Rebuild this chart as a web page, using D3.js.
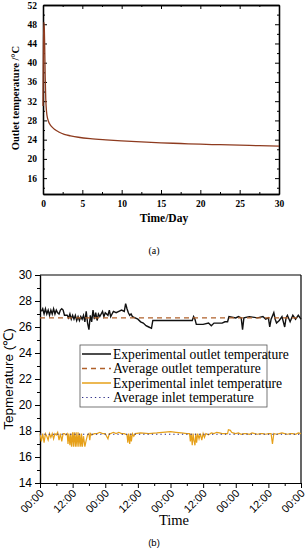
<!DOCTYPE html>
<html><head><meta charset="utf-8">
<script src="https://cdn.jsdelivr.net/npm/d3@7"></script>
<style>body{margin:0;background:#fff}svg{display:block}</style>
</head><body><svg id="c" width="308" height="550"></svg>
<script>
// ---- Chart (a) data ----
const daysA = [0, 0.06, 0.12, 0.17, 0.22, 0.28, 0.35, 0.45, 0.6, 0.8, 1.1, 1.5, 2, 2.7, 3.5, 4.5, 6, 8, 10, 12.5, 15, 17.5, 20, 22.5, 25, 27.5, 30];
const tempA = [31, 44, 48.4, 47, 43, 37, 32.5, 29.8, 28.3, 27.4, 26.7, 26.1, 25.6, 25.1, 24.8, 24.5, 24.2, 23.95, 23.75, 23.55, 23.35, 23.2, 23.05, 22.95, 22.85, 22.75, 22.65];
const xTicksA = [0, 5, 10, 15, 20, 25, 30];
const yTicksA = [16, 20, 24, 28, 32, 36, 40, 44, 48, 52];

// ---- Chart (b) data ----
const outletHours = [0.5,1,1.5,2,2.5,3,3.5,4,4.5,5,5.5,6,6.5,7,7.5,8,8.5,9,10,10.5,11,11.5,12,12.5,13,13.5,14,14.5,15,15.5,16,16.5,17,17.5,18,18.5,19,19.5,20,20.5,21,21.5,22,23,23.5,24,25,25.5,26,26.5,27,28,29,30,31,31.5,32,32.5,33,33.5,34,35,36,37,38,39,40,41,41.5,42,56,56.5,57,57.5,60,62,63,64,67,68,69,69.5,72,73,74,74.5,75,77,80,82,83,84,84.5,85,86,86.5,87,88,89,90,90.5,91,92,93,94,95,96];
const outletTemp = [27.2,27.4,27.0,27.4,27.0,27.3,26.9,27.3,27.0,27.4,27.0,27.3,27.1,27.0,27.3,27.4,27.3,26.9,26.9,26.7,27.0,26.6,26.9,26.6,26.9,26.5,26.8,26.5,26.8,26.6,26.9,26.4,27.2,26.3,25.8,26.9,26.4,27.3,26.6,27.1,26.5,27.0,26.8,27.2,26.8,27.1,26.9,27.3,26.8,27.0,27.2,27.1,27.2,27.3,27.2,27.8,27.4,27.1,26.9,27.0,26.8,26.7,26.6,26.4,26.3,26.1,26.0,25.9,26.5,26.5,26.5,26.8,26.6,26.2,26.2,26.3,26.1,26.3,26.3,26.4,26.4,26.8,26.7,26.8,26.7,25.8,26.7,26.8,26.7,26.8,26.6,26.7,26.0,26.6,27.1,26.6,26.3,26.5,26.8,26.0,26.7,26.9,26.4,26.9,26.6,26.9,26.6];
const inletHours = [0,0.5,1,1.5,2,2.5,3,3.5,4,4.5,5,5.5,6,6.5,7,7.5,8,8.5,9,9.5,10,10.3,10.6,11,11.3,11.6,12,12.3,12.6,13,13.3,13.6,14,14.3,14.6,15,15.3,15.6,16,16.5,17,17.5,18,18.3,18.6,19,20,21,22,23,24,24.5,25,25.5,26,27,28,29,30,31,32,32.3,32.6,33,33.3,33.6,34,34.5,35,37,40,43,45,48,50,52,54,55,55.3,55.6,56,56.3,56.6,57,57.3,57.6,58,58.5,59,59.5,60,60.5,61,62,63,64,65,66,67,68,69,69.3,70,70.5,71,72,73,74,75,76,77,78,79,80,81,82,83,84,85,85.5,86,87,88,89,90,91,92,93,94,95,96];
const inletTemp = [17.8,17.2,17.8,17.1,17.8,17.6,17.3,17.8,17.5,17.8,17.4,17.8,17.7,17.9,17.3,17.8,17.2,17.8,17.8,17.7,17.8,17.0,17.8,16.9,17.8,16.8,17.9,16.8,17.9,16.8,17.9,16.8,17.9,16.8,17.8,16.8,17.8,16.8,17.6,16.8,17.3,17.7,17.8,17.3,17.8,17.7,17.8,17.8,17.9,17.8,17.8,17.6,17.4,17.8,17.8,17.9,17.8,17.9,17.8,17.8,17.7,17.1,17.8,17.0,17.8,17.2,17.8,17.6,17.8,17.85,17.8,17.85,17.9,17.95,17.9,17.85,17.8,17.8,17.2,17.8,16.9,17.8,17.3,16.9,17.8,17.1,17.8,17.4,17.8,17.3,17.8,17.5,17.8,17.7,17.85,17.8,17.9,17.85,17.8,17.8,17.8,18.1,18.05,17.9,17.85,17.8,17.85,17.75,17.8,17.8,17.75,17.85,17.8,17.75,17.8,17.8,17.75,17.8,17.8,17.0,17.8,17.75,17.8,17.85,17.8,17.75,17.8,17.8,17.75,17.85,17.8];
const avgOutlet = 26.7;
const avgInlet = 17.75;
const yTicksB = [14, 16, 18, 20, 22, 24, 26, 28, 30];
const xTickLabelsB = ["00:00","12:00","00:00","12:00","00:00","12:00","00:00","12:00","00:00"];
const legendLabels = ["Experimental outlet temperature","Average outlet temperature","Experimental inlet temperature","Average inlet temperature"];

const svg = d3.select("#c");
const serif = "'Liberation Serif','Times New Roman',serif";
const sans = "'Liberation Sans',Arial,sans-serif";

// ================= Chart (a) =================
{
  const x = d3.scaleLinear().domain([0, 30]).range([43, 279]);
  const y = d3.scaleLinear().domain([12.7, 52]).range([194, 5]);
  const g = svg.append("g");
  const ax = (gen, tr) => {
    const a = g.append("g").attr("transform", tr).call(gen);
    a.select(".domain").attr("stroke", "#000").attr("stroke-width", 1.3);
    a.selectAll("line").attr("stroke", "#000").attr("stroke-width", 1);
    return a;
  };
  const minorX = d3.range(2.5, 30, 5);
  const minorY = d3.range(14, 52, 4);
  const b = ax(d3.axisBottom(x).tickValues(xTicksA).tickSizeInner(-4).tickSizeOuter(0).tickPadding(6), "translate(0,194)");
  b.selectAll("text").attr("font-family", serif).attr("font-weight", "bold").attr("font-size", 9.5).attr("fill", "#000");
  ax(d3.axisBottom(x).tickValues(minorX).tickSizeInner(-2).tickSizeOuter(0).tickFormat(""), "translate(0,194)");
  ax(d3.axisTop(x).tickValues(xTicksA).tickSizeInner(-4).tickSizeOuter(0).tickFormat(""), "translate(0,5)");
  ax(d3.axisTop(x).tickValues(minorX).tickSizeInner(-2).tickSizeOuter(0).tickFormat(""), "translate(0,5)");
  const l = ax(d3.axisLeft(y).tickValues(yTicksA).tickSizeInner(-4).tickSizeOuter(0).tickPadding(6), "translate(43,0)");
  l.selectAll("text").attr("font-family", serif).attr("font-weight", "bold").attr("font-size", 9.5).attr("fill", "#000");
  ax(d3.axisLeft(y).tickValues(minorY).tickSizeInner(-2).tickSizeOuter(0).tickFormat(""), "translate(43,0)");
  ax(d3.axisRight(y).tickValues(yTicksA).tickSizeInner(-4).tickSizeOuter(0).tickFormat(""), "translate(279,0)");
  ax(d3.axisRight(y).tickValues(minorY).tickSizeInner(-2).tickSizeOuter(0).tickFormat(""), "translate(279,0)");

  const line = d3.line().x((d, i) => x(daysA[i])).y(d => y(d)).curve(d3.curveMonotoneX);
  g.append("path").datum(tempA).attr("d", line).attr("fill", "none").attr("stroke", "#8e3b1f").attr("stroke-width", 1.3);

  g.append("text").attr("x", 164).attr("y", 222).attr("text-anchor", "middle")
    .attr("font-family", serif).attr("font-weight", "bold").attr("font-size", 11.5).text("Time/Day");
  g.append("text").attr("transform", "translate(19,98) rotate(-90)").attr("text-anchor", "middle")
    .attr("font-family", serif).attr("font-weight", "bold").attr("font-size", 10.5).text("Outlet temperature /°C");
  g.append("text").attr("x", 154).attr("y", 254).attr("text-anchor", "middle")
    .attr("font-family", serif).attr("font-size", 10).text("(a)");
}

// ================= Chart (b) =================
{
  const x = d3.scaleLinear().domain([0, 96]).range([40, 301]);
  const y = d3.scaleLinear().domain([14, 30]).range([483, 275]);
  const g = svg.append("g");
  g.append("line").attr("x1", 40).attr("x2", 301).attr("y1", 275).attr("y2", 275).attr("stroke", "#000").attr("stroke-width", 1.2);
  g.append("line").attr("x1", 301).attr("x2", 301).attr("y1", 275).attr("y2", 483).attr("stroke", "#000").attr("stroke-width", 1.2);

  const l = g.append("g").attr("transform", "translate(40,0)")
    .call(d3.axisLeft(y).tickValues(yTicksB).tickSizeInner(5).tickSizeOuter(0).tickPadding(3));
  l.selectAll("text").attr("font-family", sans).attr("font-size", 12).attr("fill", "#000");
  g.append("g").attr("transform", "translate(40,0)")
    .call(d3.axisLeft(y).tickValues(d3.range(15, 30, 2)).tickSizeInner(3).tickSizeOuter(0).tickFormat(""));
  const xt = d3.range(0, 97, 12);
  const bx = g.append("g").attr("transform", "translate(0,483)")
    .call(d3.axisBottom(x).tickValues(xt).tickSizeInner(5).tickSizeOuter(0).tickFormat((d, i) => xTickLabelsB[i]));
  bx.selectAll("text").attr("font-family", sans).attr("font-size", 11).attr("fill", "#000")
    .attr("text-anchor", "end").attr("dy", null).attr("y", 0)
    .attr("transform", "translate(4,11) rotate(-45)");
  g.append("g").attr("transform", "translate(0,483)")
    .call(d3.axisBottom(x).tickValues(d3.range(6, 96, 12)).tickSizeInner(3).tickSizeOuter(0).tickFormat(""));
  g.selectAll(".domain").attr("stroke", "#000").attr("stroke-width", 1.2);
  g.selectAll(".tick line").attr("stroke", "#000");

  const lineO = d3.line().x((d, i) => x(outletHours[i])).y(d => y(d));
  const lineI = d3.line().x((d, i) => x(inletHours[i])).y(d => y(d));
  g.append("path").datum(inletTemp).attr("d", lineI).attr("fill", "none").attr("stroke", "#e6a019").attr("stroke-width", 1.2);
  g.append("line").attr("x1", x(0)).attr("x2", x(96)).attr("y1", y(avgInlet)).attr("y2", y(avgInlet))
    .attr("stroke", "#2b2b86").attr("stroke-width", 1.2).attr("stroke-dasharray", "1.3,3");
  g.append("path").datum(outletTemp).attr("d", lineO).attr("fill", "none").attr("stroke", "#111").attr("stroke-width", 1.4);
  g.append("line").attr("x1", x(0)).attr("x2", x(96)).attr("y1", y(avgOutlet)).attr("y2", y(avgOutlet))
    .attr("stroke", "#b0602a").attr("stroke-width", 1.3).attr("stroke-dasharray", "5,4");

  const lg = g.append("g");
  lg.append("rect").attr("x", 80).attr("y", 345).attr("width", 187).attr("height", 62)
    .attr("fill", "#fff").attr("stroke", "#555").attr("stroke-width", 0.8);
  const styles = [
    {c: "#111", w: 1.5, d: null},
    {c: "#b0602a", w: 1.3, d: "5,4"},
    {c: "#e6a019", w: 1.5, d: null},
    {c: "#2b2b86", w: 1.2, d: "1.3,3"}
  ];
  const ly = [354, 368.5, 383, 397.5];
  legendLabels.forEach((t, i) => {
    lg.append("line").attr("x1", 82).attr("x2", 111).attr("y1", ly[i]).attr("y2", ly[i])
      .attr("stroke", styles[i].c).attr("stroke-width", styles[i].w).attr("stroke-dasharray", styles[i].d);
    lg.append("text").attr("x", 113).attr("y", ly[i] + 4.5).attr("font-family", serif).attr("font-size", 13.6).text(t);
  });

  g.append("text").attr("transform", "translate(13,379) rotate(-90)").attr("text-anchor", "middle")
    .attr("font-family", sans).attr("font-size", 13.5).text("Tepmerature (℃)");
  g.append("text").attr("x", 174).attr("y", 525).attr("text-anchor", "middle")
    .attr("font-family", serif).attr("font-size", 14.5).text("Time");
  g.append("text").attr("x", 154).attr("y", 546).attr("text-anchor", "middle")
    .attr("font-family", sans).attr("font-size", 9.5).text("(b)");
}
</script></body></html>
